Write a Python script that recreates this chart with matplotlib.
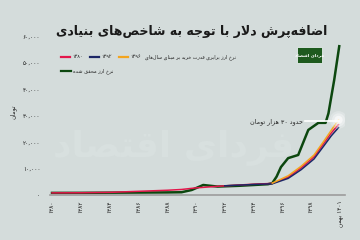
import re
import matplotlib
matplotlib.use("Agg")
import matplotlib.pyplot as plt
from matplotlib.lines import Line2D
from matplotlib.patches import Rectangle

# --- simple arabic/persian shaping (matplotlib has no bidi) ---
FORMS = {
    'ا': (0xFE8D, 0xFE8E, None, None), 'آ': (0xFE81, 0xFE82, None, None),
    'ب': (0xFE8F, 0xFE90, 0xFE91, 0xFE92), 'پ': (0xFB56, 0xFB57, 0xFB58, 0xFB59),
    'ت': (0xFE95, 0xFE96, 0xFE97, 0xFE98), 'ث': (0xFE99, 0xFE9A, 0xFE9B, 0xFE9C),
    'ج': (0xFE9D, 0xFE9E, 0xFE9F, 0xFEA0), 'چ': (0xFB7A, 0xFB7B, 0xFB7C, 0xFB7D),
    'ح': (0xFEA1, 0xFEA2, 0xFEA3, 0xFEA4), 'خ': (0xFEA5, 0xFEA6, 0xFEA7, 0xFEA8),
    'د': (0xFEA9, 0xFEAA, None, None), 'ذ': (0xFEAB, 0xFEAC, None, None),
    'ر': (0xFEAD, 0xFEAE, None, None), 'ز': (0xFEAF, 0xFEB0, None, None),
    'ژ': (0xFB8A, 0xFB8B, None, None),
    'س': (0xFEB1, 0xFEB2, 0xFEB3, 0xFEB4), 'ش': (0xFEB5, 0xFEB6, 0xFEB7, 0xFEB8),
    'ص': (0xFEB9, 0xFEBA, 0xFEBB, 0xFEBC), 'ض': (0xFEBD, 0xFEBE, 0xFEBF, 0xFEC0),
    'ط': (0xFEC1, 0xFEC2, 0xFEC3, 0xFEC4), 'ظ': (0xFEC5, 0xFEC6, 0xFEC7, 0xFEC8),
    'ع': (0xFEC9, 0xFECA, 0xFECB, 0xFECC), 'غ': (0xFECD, 0xFECE, 0xFECF, 0xFED0),
    'ف': (0xFED1, 0xFED2, 0xFED3, 0xFED4), 'ق': (0xFED5, 0xFED6, 0xFED7, 0xFED8),
    'ک': (0xFB8E, 0xFB8F, 0xFB90, 0xFB91), 'گ': (0xFB92, 0xFB93, 0xFB94, 0xFB95),
    'ل': (0xFEDD, 0xFEDE, 0xFEDF, 0xFEE0), 'م': (0xFEE1, 0xFEE2, 0xFEE3, 0xFEE4),
    'ن': (0xFEE5, 0xFEE6, 0xFEE7, 0xFEE8), 'ه': (0xFEE9, 0xFEEA, 0xFEEB, 0xFEEC),
    'و': (0xFEED, 0xFEEE, None, None), 'ی': (0xFBFC, 0xFBFD, 0xFBFE, 0xFBFF),
}


def fa(s):
    out = []
    i = 0
    while i < len(s):
        c = s[i]
        if c not in FORMS:
            if c != '\u200c':
                out.append(c)
            i += 1
            continue
        prev = s[i - 1] if i > 0 else None
        nxt = s[i + 1] if i + 1 < len(s) else None
        jp = prev in FORMS and FORMS[prev][2] is not None
        if c == 'ل' and nxt in ('ا', 'آ'):
            base = 0xFEFB if nxt == 'ا' else 0xFEF5
            out.append(chr(base + 1 if jp else base))
            i += 2
            continue
        jn = FORMS[c][2] is not None and nxt in FORMS
        iso, fin, ini, med = FORMS[c]
        if jp and jn:
            code = med
        elif jp:
            code = fin
        elif jn:
            code = ini
        else:
            code = iso
        out.append(chr(code))
        i += 1
    rev = ''.join(out)[::-1]
    return re.sub(r'[۰-۹0-9,]+', lambda m: m.group(0)[::-1], rev)


# --- data (x in year units, toman) ---
t_real = [1380, 1382, 1384, 1386, 1388, 1389, 1389.7, 1390.5, 1391.5, 1393, 1394,
          1395, 1395.3, 1395.6, 1395.9, 1396.4, 1397.1, 1397.8, 1398.5, 1399.0,
          1399.2, 1399.6, 1399.95]
v_real = [800, 820, 880, 930, 980, 1050, 1900, 3800, 3200, 3500, 3800,
          4100, 4500, 7000, 10600, 14000, 15200, 24700, 27400, 27400,
          31000, 43700, 56500]

t_1380 = [1380, 1382, 1384, 1386, 1388, 1389, 1390, 1391.5, 1393, 1394, 1395.3,
          1396.4, 1397.3, 1398.2, 1398.9, 1399.4, 1399.9]
v_1380 = [800, 850, 1000, 1400, 1800, 2100, 2700, 3300, 3800, 4100, 4400,
          6800, 10300, 14500, 19800, 23600, 26800]

t_1392 = [1392, 1393, 1394, 1395.3, 1396.4, 1397.3, 1398.2, 1398.9, 1399.4, 1399.9]
v_1392 = [3500, 3750, 4000, 4250, 6300, 9600, 13700, 18800, 22500, 25600]

t_1396 = [1395.3, 1396.4, 1397.3, 1398.2, 1398.9, 1399.4, 1399.9]
v_1396 = [4500, 7300, 10900, 15200, 20600, 24600, 28500]

x_ticks = [1380, 1382, 1384, 1386, 1388, 1390, 1392, 1394, 1396, 1398, 1400]
x_labels = ['۱۳۸۰', '۱۳۸۲', '۱۳۸۴', '۱۳۸۶', '۱۳۸۸', '۱۳۹۰', '۱۳۹۲', '۱۳۹۴',
            '۱۳۹۶', '۱۳۹۸', '۱۴۰۱ بهمن']
y_ticks = [0, 10000, 20000, 30000, 40000, 50000, 60000]
y_labels = ['۰', '۱۰,۰۰۰', '۲۰,۰۰۰', '۳۰,۰۰۰', '۴۰,۰۰۰', '۵۰,۰۰۰', '۶۰,۰۰۰']

bg = '#d4dcdb'
c_real = '#0c470f'
c_1380 = '#e3164b'
c_1392 = '#1d2766'
c_1396 = '#f3a51f'
txt = '#222222'

plt.rcParams['font.family'] = ['DejaVu Sans']

fig = plt.figure(figsize=(3.6, 2.4), dpi=100, facecolor=bg)
ax = fig.add_axes([50 / 360, 45 / 240, 295 / 360, 158 / 240], facecolor=bg)

# faint watermark
ax.text(0.42, 0.3, fa('فردای اقتصاد'), transform=ax.transAxes, ha='center', va='center',
        fontsize=26, fontweight='bold', color='#d8e0df', zorder=0)

ax.plot(t_1380, v_1380, color=c_1380, lw=1.1, zorder=3)
ax.plot(t_1392, v_1392, color=c_1392, lw=1.1, zorder=3)
ax.plot(t_1396, v_1396, color=c_1396, lw=1.1, zorder=4)
ax.plot(t_real, v_real, color=c_real, lw=1.8, zorder=2)

# glow at the end point
ex, ey = t_1396[-1], v_1396[-1]
for s, a in [(160, 0.25), (90, 0.35), (35, 0.6)]:
    ax.scatter([ex], [ey], s=s, facecolor='white', edgecolor='none', alpha=a, zorder=5)
ax.plot([1397.6, ex], [ey - 500, ey - 500], color='white', lw=1.2, zorder=5)
ax.text(1397.4, ey - 500, fa('حدود ۳۰ هزار تومان'), ha='right', va='center',
        fontsize=4.6, color=txt)

ax.set_xlim(1379.86, 1400.35)
ax.set_ylim(0, 60000)
ax.set_xticks(x_ticks)
ax.set_xticklabels([fa(l) for l in x_labels], rotation=90, va='top')
ax.set_yticks(y_ticks)
ax.set_yticklabels([fa(l) for l in y_labels])
ax.tick_params(axis='both', length=0, labelsize=4.2, colors=txt)
ax.tick_params(axis='x', pad=4)
ax.tick_params(axis='y', pad=7)
for sp in ['top', 'right', 'left']:
    ax.spines[sp].set_visible(False)
ax.spines['bottom'].set_color('#9c9c9c')
ax.spines['bottom'].set_linewidth(1.2)

fig.text(13 / 360, 1 - 112 / 240, fa('تومان'), rotation=90, ha='center', va='center',
         fontsize=4.4, color=txt)

# title
fig.text(192 / 360, 1 - 32 / 240, fa('اضافه‌پرش دلار با توجه به شاخص‌های بنیادی'),
         ha='center', va='center', fontsize=9, fontweight='bold', color='#1a1a1a')

# logo
fig.add_artist(Rectangle((297 / 360, 1 - 63 / 240), 25 / 360, 16 / 240,
                         transform=fig.transFigure, facecolor='#1e5a1e', edgecolor='#e8eeee', lw=0.6))
fig.text(309.5 / 360, 1 - 55 / 240, fa('فردای اقتصاد'), ha='center', va='center',
         fontsize=3.2, color='white', fontweight='bold')


# legend (right to left)
def swatch(x0, x1, y, color):
    fig.add_artist(Line2D([x0 / 360, x1 / 360], [1 - y / 240, 1 - y / 240],
                          transform=fig.transFigure, color=color, lw=1.6))


ly1, ly2 = 57, 71
fig.text(236 / 360, 1 - ly1 / 240, fa('نرخ ارز برابری قدرت خرید بر مبنای سال‌های'),
         ha='right', va='center', fontsize=3.5, color=txt)
swatch(119, 128, ly1, c_1396)
fig.text(130 / 360, 1 - ly1 / 240, '۱۳۹۶', ha='left', va='center', fontsize=3.6, color=txt)
swatch(90, 99, ly1, c_1392)
fig.text(101 / 360, 1 - ly1 / 240, '۱۳۹۲', ha='left', va='center', fontsize=3.6, color=txt)
swatch(61, 70, ly1, c_1380)
fig.text(72 / 360, 1 - ly1 / 240, '۱۳۸۰', ha='left', va='center', fontsize=3.6, color=txt)
swatch(61, 71, ly2, c_real)
fig.text(73 / 360, 1 - ly2 / 240, fa('نرخ ارز محقق شده'), ha='left', va='center',
         fontsize=3.6, color=txt)

fig.savefig('out.png', dpi=100, facecolor=bg)
